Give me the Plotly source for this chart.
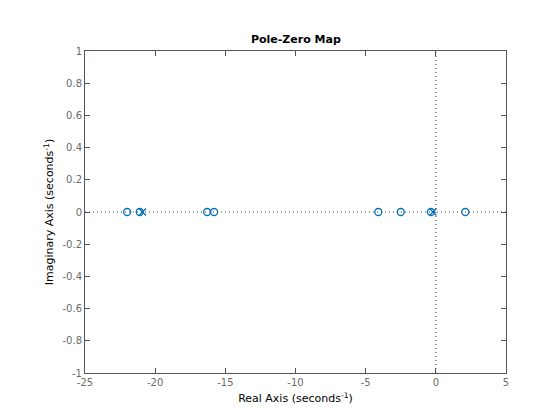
import plotly.graph_objects as go

zeros_real = [-22.0, -21.1, -16.3, -15.8, -4.1, -2.5, -0.35, 2.1]
zeros_imag = [0, 0, 0, 0, 0, 0, 0, 0]
poles_real = [-20.9, -0.2]
poles_imag = [0, 0]

x_ticks = [-25, -20, -15, -10, -5, 0, 5]
y_ticks = [-1, -0.8, -0.6, -0.4, -0.2, 0, 0.2, 0.4, 0.6, 0.8, 1]

blue = "#0072BD"
font = "DejaVu Sans"

fig = go.Figure()
fig.add_hline(y=0, line=dict(color="#404040", width=1, dash="1px,3px"))
fig.add_vline(x=0, line=dict(color="#404040", width=1, dash="1px,3px"))
fig.add_trace(go.Scatter(x=zeros_real, y=zeros_imag, mode="markers",
                         marker=dict(symbol="circle-open", size=7, color=blue,
                                     line=dict(width=1.3, color=blue)),
                         showlegend=False))
fig.add_trace(go.Scatter(x=poles_real, y=poles_imag, mode="markers",
                         marker=dict(symbol="x-thin-open", size=7, color=blue,
                                     line=dict(width=1.3, color=blue)),
                         showlegend=False))

axis_common = dict(showgrid=False, zeroline=False, showline=True, linecolor="#555555",
                   linewidth=1, mirror="ticks", ticks="inside", ticklen=5, automargin=False,
                   tickcolor="#555555", tickfont=dict(family=font, size=10, color="#6a6a6a"))

fig.update_layout(
    width=560, height=420,
    paper_bgcolor="white", plot_bgcolor="white",
    margin=dict(l=77, r=62, t=43, b=55),
    title=dict(text="<b>Pole-Zero Map</b>", x=0.514, xanchor="center", y=0.917, yanchor="bottom",
               font=dict(family=font, size=11, color="black")),
    xaxis=dict(range=[-25, 5], tickvals=x_ticks, ticktext=[str(v) for v in x_ticks],
               title=dict(text="Real Axis (seconds<sup>-1</sup>)", standoff=7,
                          font=dict(family=font, size=11, color="black")),
               **axis_common),
    yaxis=dict(range=[-1, 1], tickvals=y_ticks, ticktext=[f"{v:g}" for v in y_ticks],
               title=dict(text="Imaginary Axis (seconds<sup>-1</sup>)", standoff=6,
                          font=dict(family=font, size=11, color="black")),
               **axis_common),
)

fig.write_html("out.html")
